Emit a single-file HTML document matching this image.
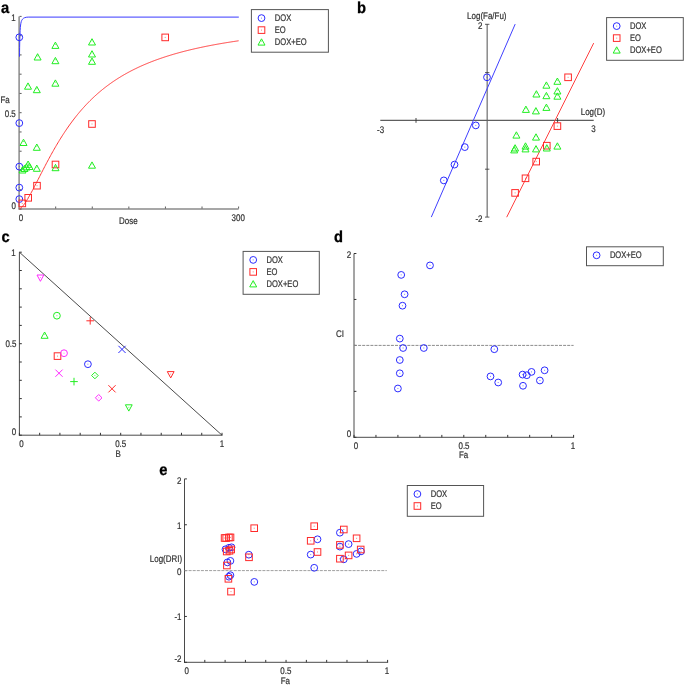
<!DOCTYPE html>
<html><head><meta charset="utf-8"><style>
html,body{margin:0;padding:0;background:#fff;}
svg{display:block;}
#w{width:685px;height:685px;will-change:transform;}
text{font-family:"Liberation Sans",sans-serif;text-rendering:geometricPrecision;}
</style></head><body><div id="w">
<svg width="685" height="685" viewBox="0 0 685 685">
<rect width="685" height="685" fill="#fff"/>
<text transform="translate(1,12.5) scale(0.92,1)" font-size="16" fill="#000" stroke="#000" stroke-width="0.3" text-anchor="start" font-weight="bold">a</text>
<line x1="19.1" y1="16.4" x2="19.1" y2="209.5" stroke="#8a8a8a" stroke-width="1.5" />
<line x1="18.6" y1="209.0" x2="238.6" y2="209.0" stroke="#8a8a8a" stroke-width="1.5" />
<line x1="19.6" y1="209.0" x2="21.6" y2="209.0" stroke="#333" stroke-width="0.8" />
<line x1="19.6" y1="189.74" x2="21.6" y2="189.74" stroke="#333" stroke-width="0.8" />
<line x1="19.6" y1="170.48000000000002" x2="21.6" y2="170.48000000000002" stroke="#333" stroke-width="0.8" />
<line x1="19.6" y1="151.22" x2="21.6" y2="151.22" stroke="#333" stroke-width="0.8" />
<line x1="19.6" y1="131.96" x2="21.6" y2="131.96" stroke="#333" stroke-width="0.8" />
<line x1="19.6" y1="112.7" x2="21.6" y2="112.7" stroke="#333" stroke-width="0.8" />
<line x1="19.6" y1="93.44000000000001" x2="21.6" y2="93.44000000000001" stroke="#333" stroke-width="0.8" />
<line x1="19.6" y1="74.18" x2="21.6" y2="74.18" stroke="#333" stroke-width="0.8" />
<line x1="19.6" y1="54.920000000000016" x2="21.6" y2="54.920000000000016" stroke="#333" stroke-width="0.8" />
<line x1="19.6" y1="35.660000000000025" x2="21.6" y2="35.660000000000025" stroke="#333" stroke-width="0.8" />
<line x1="19.6" y1="16.400000000000006" x2="21.6" y2="16.400000000000006" stroke="#333" stroke-width="0.8" />
<line x1="55.68333333333334" y1="208.5" x2="55.68333333333334" y2="206.5" stroke="#333" stroke-width="0.8" />
<line x1="92.26666666666668" y1="208.5" x2="92.26666666666668" y2="206.5" stroke="#333" stroke-width="0.8" />
<line x1="128.85" y1="208.5" x2="128.85" y2="206.5" stroke="#333" stroke-width="0.8" />
<line x1="165.43333333333334" y1="208.5" x2="165.43333333333334" y2="206.5" stroke="#333" stroke-width="0.8" />
<line x1="202.01666666666665" y1="208.5" x2="202.01666666666665" y2="206.5" stroke="#333" stroke-width="0.8" />
<line x1="238.6" y1="208.5" x2="238.6" y2="206.5" stroke="#333" stroke-width="0.8" />
<text transform="translate(15.8,20.6) scale(0.83,1)" font-size="9.6" fill="#333333" stroke="#333333" stroke-width="0.22" text-anchor="end" font-weight="normal">1</text>
<text transform="translate(15.8,116.6) scale(0.83,1)" font-size="9.6" fill="#333333" stroke="#333333" stroke-width="0.22" text-anchor="end" font-weight="normal">0.5</text>
<text transform="translate(15.9,208.9) scale(0.83,1)" font-size="9.6" fill="#333333" stroke="#333333" stroke-width="0.22" text-anchor="end" font-weight="normal">0</text>
<text transform="translate(0.5,102.6) scale(0.83,1)" font-size="9.6" fill="#333333" stroke="#333333" stroke-width="0.22" text-anchor="start" font-weight="normal">Fa</text>
<text transform="translate(21,220.6) scale(0.83,1)" font-size="9.6" fill="#333333" stroke="#333333" stroke-width="0.22" text-anchor="middle" font-weight="normal">0</text>
<text transform="translate(128.3,223.6) scale(0.83,1)" font-size="9.6" fill="#333333" stroke="#333333" stroke-width="0.22" text-anchor="middle" font-weight="normal">Dose</text>
<text transform="translate(238.2,221) scale(0.83,1)" font-size="9.6" fill="#333333" stroke="#333333" stroke-width="0.22" text-anchor="middle" font-weight="normal">300</text>
<path d="M19.5,56.7 C19.6,45 19.9,30 20.6,25 C21.2,20 22.5,17.2 28.2,17.1 L238.8,17.1" fill="none" stroke="#3a3aff" stroke-width="1"/>
<polyline points="19.10,209.00 19.83,208.73 20.56,208.24 21.30,207.61 22.03,206.87 22.76,206.04 23.49,205.14 24.22,204.17 24.95,203.14 25.69,202.06 26.42,200.93 27.15,199.76 27.88,198.56 28.61,197.31 29.34,196.04 30.08,194.75 30.81,193.43 31.54,192.08 32.27,190.73 33.00,189.35 33.73,187.96 34.47,186.56 35.20,185.15 35.93,183.74 36.66,182.31 37.39,180.89 38.12,179.46 38.86,178.02 39.59,176.59 40.32,175.16 41.05,173.73 41.78,172.30 42.51,170.88 43.25,169.46 43.98,168.04 44.71,166.64 45.44,165.24 46.17,163.84 46.90,162.45 47.64,161.08 48.37,159.71 49.10,158.35 49.83,157.00 50.56,155.66 51.29,154.33 52.02,153.01 52.76,151.70 53.49,150.41 54.22,149.12 54.95,147.85 55.68,146.59 56.41,145.34 57.15,144.10 57.88,142.87 58.61,141.66 59.34,140.46 60.07,139.27 60.80,138.10 61.54,136.93 62.27,135.78 63.00,134.64 63.73,133.52 64.46,132.41 65.19,131.30 65.93,130.22 66.66,129.14 67.39,128.08 68.12,127.02 68.85,125.98 69.59,124.96 70.32,123.94 71.05,122.94 71.78,121.95 72.51,120.97 73.24,120.00 73.97,119.04 74.71,118.09 75.44,117.16 76.17,116.24 76.90,115.33 77.63,114.43 78.37,113.54 79.10,112.66 79.83,111.79 80.56,110.93 81.29,110.08 82.02,109.25 82.75,108.42 83.49,107.60 84.22,106.79 84.95,106.00 85.68,105.21 86.41,104.43 87.15,103.66 87.88,102.91 88.61,102.16 89.34,101.41 90.07,100.68 90.80,99.96 91.53,99.25 92.27,98.54 93.00,97.84 93.73,97.16 94.46,96.48 95.19,95.80 95.93,95.14 96.66,94.49 97.39,93.84 98.12,93.20 98.85,92.56 99.58,91.94 100.31,91.32 101.05,90.71 101.78,90.11 102.51,89.51 103.24,88.93 103.97,88.34 104.71,87.77 105.44,87.20 106.17,86.64 106.90,86.09 107.63,85.54 108.36,85.00 109.09,84.46 109.83,83.93 110.56,83.41 111.29,82.89 112.02,82.38 112.75,81.87 113.49,81.37 114.22,80.88 114.95,80.39 115.68,79.91 116.41,79.43 117.14,78.96 117.88,78.49 118.61,78.03 119.34,77.58 120.07,77.13 120.80,76.68 121.53,76.24 122.27,75.80 123.00,75.37 123.73,74.95 124.46,74.52 125.19,74.11 125.92,73.70 126.66,73.29 127.39,72.88 128.12,72.48 128.85,72.09 129.58,71.70 130.31,71.31 131.04,70.93 131.78,70.55 132.51,70.18 133.24,69.81 133.97,69.44 134.70,69.08 135.44,68.72 136.17,68.37 136.90,68.02 137.63,67.67 138.36,67.32 139.09,66.98 139.82,66.65 140.56,66.31 141.29,65.98 142.02,65.66 142.75,65.33 143.48,65.01 144.22,64.70 144.95,64.39 145.68,64.08 146.41,63.77 147.14,63.46 147.87,63.16 148.60,62.87 149.34,62.57 150.07,62.28 150.80,61.99 151.53,61.70 152.26,61.42 153.00,61.14 153.73,60.86 154.46,60.59 155.19,60.31 155.92,60.04 156.65,59.78 157.38,59.51 158.12,59.25 158.85,58.99 159.58,58.73 160.31,58.48 161.04,58.23 161.78,57.98 162.51,57.73 163.24,57.48 163.97,57.24 164.70,57.00 165.43,56.76 166.16,56.52 166.90,56.29 167.63,56.06 168.36,55.83 169.09,55.60 169.82,55.38 170.56,55.15 171.29,54.93 172.02,54.71 172.75,54.49 173.48,54.28 174.21,54.06 174.94,53.85 175.68,53.64 176.41,53.43 177.14,53.23 177.87,53.02 178.60,52.82 179.34,52.62 180.07,52.42 180.80,52.22 181.53,52.03 182.26,51.84 182.99,51.64 183.72,51.45 184.46,51.26 185.19,51.08 185.92,50.89 186.65,50.71 187.38,50.52 188.11,50.34 188.85,50.16 189.58,49.99 190.31,49.81 191.04,49.64 191.77,49.46 192.50,49.29 193.24,49.12 193.97,48.95 194.70,48.78 195.43,48.62 196.16,48.45 196.89,48.29 197.63,48.13 198.36,47.96 199.09,47.81 199.82,47.65 200.55,47.49 201.28,47.33 202.02,47.18 202.75,47.03 203.48,46.87 204.21,46.72 204.94,46.57 205.67,46.42 206.41,46.28 207.14,46.13 207.87,45.99 208.60,45.84 209.33,45.70 210.06,45.56 210.80,45.42 211.53,45.28 212.26,45.14 212.99,45.00 213.72,44.87 214.45,44.73 215.19,44.60 215.92,44.46 216.65,44.33 217.38,44.20 218.11,44.07 218.84,43.94 219.58,43.81 220.31,43.69 221.04,43.56 221.77,43.43 222.50,43.31 223.23,43.19 223.97,43.06 224.70,42.94 225.43,42.82 226.16,42.70 226.89,42.58 227.62,42.46 228.36,42.35 229.09,42.23 229.82,42.12 230.55,42.00 231.28,41.89 232.01,41.77 232.75,41.66 233.48,41.55 234.21,41.44 234.94,41.33 235.67,41.22 236.41,41.11 237.14,41.01 237.87,40.90 238.60,40.79" fill="none" stroke="#ff3a3a" stroke-width="1"/>
<circle cx="19.30" cy="37.30" r="3.4" fill="none" stroke="#2a2aff" stroke-width="1"/>
<rect x="18.80" y="36.80" width="1" height="1" fill="#2a2aff" opacity="0.6"/>
<circle cx="19.30" cy="123.10" r="3.4" fill="none" stroke="#2a2aff" stroke-width="1"/>
<rect x="18.80" y="122.60" width="1" height="1" fill="#2a2aff" opacity="0.6"/>
<circle cx="19.30" cy="166.60" r="3.4" fill="none" stroke="#2a2aff" stroke-width="1"/>
<rect x="18.80" y="166.10" width="1" height="1" fill="#2a2aff" opacity="0.6"/>
<circle cx="19.30" cy="187.60" r="3.4" fill="none" stroke="#2a2aff" stroke-width="1"/>
<rect x="18.80" y="187.10" width="1" height="1" fill="#2a2aff" opacity="0.6"/>
<circle cx="19.30" cy="199.10" r="3.4" fill="none" stroke="#2a2aff" stroke-width="1"/>
<rect x="18.80" y="198.60" width="1" height="1" fill="#2a2aff" opacity="0.6"/>
<rect x="19.00" y="200.10" width="6.6" height="6.6" fill="none" stroke="#ff2a2a" stroke-width="1"/>
<rect x="21.80" y="202.90" width="1" height="1" fill="#ff2a2a" opacity="0.6"/>
<rect x="24.90" y="194.50" width="6.6" height="6.6" fill="none" stroke="#ff2a2a" stroke-width="1"/>
<rect x="27.70" y="197.30" width="1" height="1" fill="#ff2a2a" opacity="0.6"/>
<rect x="33.70" y="182.40" width="6.6" height="6.6" fill="none" stroke="#ff2a2a" stroke-width="1"/>
<rect x="36.50" y="185.20" width="1" height="1" fill="#ff2a2a" opacity="0.6"/>
<rect x="52.20" y="161.20" width="6.6" height="6.6" fill="none" stroke="#ff2a2a" stroke-width="1"/>
<rect x="55.00" y="164.00" width="1" height="1" fill="#ff2a2a" opacity="0.6"/>
<rect x="88.70" y="120.70" width="6.6" height="6.6" fill="none" stroke="#ff2a2a" stroke-width="1"/>
<rect x="91.50" y="123.50" width="1" height="1" fill="#ff2a2a" opacity="0.6"/>
<rect x="161.90" y="34.10" width="6.6" height="6.6" fill="none" stroke="#ff2a2a" stroke-width="1"/>
<rect x="164.70" y="36.90" width="1" height="1" fill="#ff2a2a" opacity="0.6"/>
<polygon points="28.00,82.90 31.50,89.20 24.50,89.20" fill="none" stroke="#22ee22" stroke-width="1"/>
<rect x="27.50" y="84.70" width="1" height="1" fill="#22ee22" opacity="0.6"/>
<polygon points="36.80,86.40 40.30,92.70 33.30,92.70" fill="none" stroke="#22ee22" stroke-width="1"/>
<rect x="36.30" y="88.20" width="1" height="1" fill="#22ee22" opacity="0.6"/>
<polygon points="37.60,53.70 41.10,60.00 34.10,60.00" fill="none" stroke="#22ee22" stroke-width="1"/>
<rect x="37.10" y="55.50" width="1" height="1" fill="#22ee22" opacity="0.6"/>
<polygon points="55.40,42.10 58.90,48.40 51.90,48.40" fill="none" stroke="#22ee22" stroke-width="1"/>
<rect x="54.90" y="43.90" width="1" height="1" fill="#22ee22" opacity="0.6"/>
<polygon points="55.40,57.40 58.90,63.70 51.90,63.70" fill="none" stroke="#22ee22" stroke-width="1"/>
<rect x="54.90" y="59.20" width="1" height="1" fill="#22ee22" opacity="0.6"/>
<polygon points="55.40,79.90 58.90,86.20 51.90,86.20" fill="none" stroke="#22ee22" stroke-width="1"/>
<rect x="54.90" y="81.70" width="1" height="1" fill="#22ee22" opacity="0.6"/>
<polygon points="92.00,38.70 95.50,45.00 88.50,45.00" fill="none" stroke="#22ee22" stroke-width="1"/>
<rect x="91.50" y="40.50" width="1" height="1" fill="#22ee22" opacity="0.6"/>
<polygon points="92.00,50.70 95.50,57.00 88.50,57.00" fill="none" stroke="#22ee22" stroke-width="1"/>
<rect x="91.50" y="52.50" width="1" height="1" fill="#22ee22" opacity="0.6"/>
<polygon points="92.00,58.00 95.50,64.30 88.50,64.30" fill="none" stroke="#22ee22" stroke-width="1"/>
<rect x="91.50" y="59.80" width="1" height="1" fill="#22ee22" opacity="0.6"/>
<polygon points="23.50,139.20 27.00,145.50 20.00,145.50" fill="none" stroke="#22ee22" stroke-width="1"/>
<rect x="23.00" y="141.00" width="1" height="1" fill="#22ee22" opacity="0.6"/>
<polygon points="36.80,144.00 40.30,150.30 33.30,150.30" fill="none" stroke="#22ee22" stroke-width="1"/>
<rect x="36.30" y="145.80" width="1" height="1" fill="#22ee22" opacity="0.6"/>
<polygon points="22.50,166.70 26.00,173.00 19.00,173.00" fill="none" stroke="#22ee22" stroke-width="1"/>
<rect x="22.00" y="168.50" width="1" height="1" fill="#22ee22" opacity="0.6"/>
<polygon points="24.50,165.20 28.00,171.50 21.00,171.50" fill="none" stroke="#22ee22" stroke-width="1"/>
<rect x="24.00" y="167.00" width="1" height="1" fill="#22ee22" opacity="0.6"/>
<polygon points="26.50,163.70 30.00,170.00 23.00,170.00" fill="none" stroke="#22ee22" stroke-width="1"/>
<rect x="26.00" y="165.50" width="1" height="1" fill="#22ee22" opacity="0.6"/>
<polygon points="28.10,161.00 31.60,167.30 24.60,167.30" fill="none" stroke="#22ee22" stroke-width="1"/>
<rect x="27.60" y="162.80" width="1" height="1" fill="#22ee22" opacity="0.6"/>
<polygon points="29.50,163.20 33.00,169.50 26.00,169.50" fill="none" stroke="#22ee22" stroke-width="1"/>
<rect x="29.00" y="165.00" width="1" height="1" fill="#22ee22" opacity="0.6"/>
<polygon points="36.80,165.00 40.30,171.30 33.30,171.30" fill="none" stroke="#22ee22" stroke-width="1"/>
<rect x="36.30" y="166.80" width="1" height="1" fill="#22ee22" opacity="0.6"/>
<polygon points="55.50,164.40 59.00,170.70 52.00,170.70" fill="none" stroke="#22ee22" stroke-width="1"/>
<rect x="55.00" y="166.20" width="1" height="1" fill="#22ee22" opacity="0.6"/>
<polygon points="92.00,161.90 95.50,168.20 88.50,168.20" fill="none" stroke="#22ee22" stroke-width="1"/>
<rect x="91.50" y="163.70" width="1" height="1" fill="#22ee22" opacity="0.6"/>
<rect x="251.4" y="9.6" width="77" height="42.6" fill="#fff" stroke="#555" stroke-width="1"/>
<circle cx="261.50" cy="18.10" r="3.4" fill="none" stroke="#2a2aff" stroke-width="1"/>
<rect x="261.00" y="17.60" width="1" height="1" fill="#2a2aff" opacity="0.6"/>
<text transform="translate(274.8,21.1) scale(0.79,1)" font-size="9.6" fill="#333333" stroke="#333333" stroke-width="0.22" text-anchor="start" font-weight="normal">DOX</text>
<rect x="258.20" y="26.80" width="6.6" height="6.6" fill="none" stroke="#ff2a2a" stroke-width="1"/>
<rect x="261.00" y="29.60" width="1" height="1" fill="#ff2a2a" opacity="0.6"/>
<text transform="translate(274.8,33.1) scale(0.79,1)" font-size="9.6" fill="#333333" stroke="#333333" stroke-width="0.22" text-anchor="start" font-weight="normal">EO</text>
<polygon points="261.50,38.80 265.00,45.10 258.00,45.10" fill="none" stroke="#22ee22" stroke-width="1"/>
<rect x="261.00" y="40.60" width="1" height="1" fill="#22ee22" opacity="0.6"/>
<text transform="translate(274.8,45.1) scale(0.79,1)" font-size="9.6" fill="#333333" stroke="#333333" stroke-width="0.22" text-anchor="start" font-weight="normal">DOX+EO</text>
<text transform="translate(357,12.8) scale(0.92,1)" font-size="16" fill="#000" stroke="#000" stroke-width="0.3" text-anchor="start" font-weight="bold">b</text>
<line x1="487.2" y1="24.3" x2="487.2" y2="217.1" stroke="#8a8a8a" stroke-width="1.5" />
<line x1="380.3" y1="120.4" x2="593.7" y2="120.4" stroke="#5e5e5e" stroke-width="1.2" />
<line x1="485.0" y1="24.3" x2="489.4" y2="24.3" stroke="#333" stroke-width="0.8" />
<line x1="485.0" y1="72.6" x2="489.4" y2="72.6" stroke="#333" stroke-width="0.8" />
<line x1="485.0" y1="169.2" x2="489.4" y2="169.2" stroke="#333" stroke-width="0.8" />
<line x1="485.0" y1="217.1" x2="489.4" y2="217.1" stroke="#333" stroke-width="0.8" />
<line x1="416" y1="118.0" x2="416" y2="122.80000000000001" stroke="#333" stroke-width="0.9" />
<line x1="557.6" y1="118.0" x2="557.6" y2="122.80000000000001" stroke="#333" stroke-width="0.9" />
<text transform="translate(486.8,18.8) scale(0.83,1)" font-size="9.6" fill="#333333" stroke="#333333" stroke-width="0.22" text-anchor="middle" font-weight="normal">Log(Fa/Fu)</text>
<text transform="translate(482.5,28.7) scale(0.83,1)" font-size="9.6" fill="#333333" stroke="#333333" stroke-width="0.22" text-anchor="end" font-weight="normal">2</text>
<text transform="translate(482.5,222.0) scale(0.83,1)" font-size="9.6" fill="#333333" stroke="#333333" stroke-width="0.22" text-anchor="end" font-weight="normal">-2</text>
<text transform="translate(380.6,132.6) scale(0.83,1)" font-size="9.6" fill="#333333" stroke="#333333" stroke-width="0.22" text-anchor="middle" font-weight="normal">-3</text>
<text transform="translate(593.5,132.4) scale(0.83,1)" font-size="9.6" fill="#333333" stroke="#333333" stroke-width="0.22" text-anchor="middle" font-weight="normal">3</text>
<text transform="translate(580.7,115.2) scale(0.83,1)" font-size="9.6" fill="#333333" stroke="#333333" stroke-width="0.22" text-anchor="start" font-weight="normal">Log(D)</text>
<line x1="431.3" y1="217.1" x2="515.2" y2="24.1" stroke="#4040ff" stroke-width="1" />
<line x1="506.7" y1="217.2" x2="593.7" y2="43.1" stroke="#ff4040" stroke-width="1" />
<circle cx="487.00" cy="77.30" r="3.4" fill="none" stroke="#2a2aff" stroke-width="1"/>
<rect x="486.50" y="76.80" width="1" height="1" fill="#2a2aff" opacity="0.6"/>
<circle cx="475.80" cy="125.40" r="3.4" fill="none" stroke="#2a2aff" stroke-width="1"/>
<rect x="475.30" y="124.90" width="1" height="1" fill="#2a2aff" opacity="0.6"/>
<circle cx="464.80" cy="147.10" r="3.4" fill="none" stroke="#2a2aff" stroke-width="1"/>
<rect x="464.30" y="146.60" width="1" height="1" fill="#2a2aff" opacity="0.6"/>
<circle cx="454.50" cy="164.60" r="3.4" fill="none" stroke="#2a2aff" stroke-width="1"/>
<rect x="454.00" y="164.10" width="1" height="1" fill="#2a2aff" opacity="0.6"/>
<circle cx="443.80" cy="180.40" r="3.4" fill="none" stroke="#2a2aff" stroke-width="1"/>
<rect x="443.30" y="179.90" width="1" height="1" fill="#2a2aff" opacity="0.6"/>
<rect x="564.80" y="74.00" width="6.6" height="6.6" fill="none" stroke="#ff2a2a" stroke-width="1"/>
<rect x="567.60" y="76.80" width="1" height="1" fill="#ff2a2a" opacity="0.6"/>
<rect x="554.10" y="122.80" width="6.6" height="6.6" fill="none" stroke="#ff2a2a" stroke-width="1"/>
<rect x="556.90" y="125.60" width="1" height="1" fill="#ff2a2a" opacity="0.6"/>
<rect x="543.50" y="142.40" width="6.6" height="6.6" fill="none" stroke="#ff2a2a" stroke-width="1"/>
<rect x="546.30" y="145.20" width="1" height="1" fill="#ff2a2a" opacity="0.6"/>
<rect x="532.90" y="158.30" width="6.6" height="6.6" fill="none" stroke="#ff2a2a" stroke-width="1"/>
<rect x="535.70" y="161.10" width="1" height="1" fill="#ff2a2a" opacity="0.6"/>
<rect x="522.20" y="175.00" width="6.6" height="6.6" fill="none" stroke="#ff2a2a" stroke-width="1"/>
<rect x="525.00" y="177.80" width="1" height="1" fill="#ff2a2a" opacity="0.6"/>
<rect x="511.80" y="189.60" width="6.6" height="6.6" fill="none" stroke="#ff2a2a" stroke-width="1"/>
<rect x="514.60" y="192.40" width="1" height="1" fill="#ff2a2a" opacity="0.6"/>
<polygon points="557.40,78.00 560.90,84.30 553.90,84.30" fill="none" stroke="#22ee22" stroke-width="1"/>
<rect x="556.90" y="79.80" width="1" height="1" fill="#22ee22" opacity="0.6"/>
<polygon points="546.40,81.90 549.90,88.20 542.90,88.20" fill="none" stroke="#22ee22" stroke-width="1"/>
<rect x="545.90" y="83.70" width="1" height="1" fill="#22ee22" opacity="0.6"/>
<polygon points="557.40,87.70 560.90,94.00 553.90,94.00" fill="none" stroke="#22ee22" stroke-width="1"/>
<rect x="556.90" y="89.50" width="1" height="1" fill="#22ee22" opacity="0.6"/>
<polygon points="536.40,90.70 539.90,97.00 532.90,97.00" fill="none" stroke="#22ee22" stroke-width="1"/>
<rect x="535.90" y="92.50" width="1" height="1" fill="#22ee22" opacity="0.6"/>
<polygon points="546.40,92.40 549.90,98.70 542.90,98.70" fill="none" stroke="#22ee22" stroke-width="1"/>
<rect x="545.90" y="94.20" width="1" height="1" fill="#22ee22" opacity="0.6"/>
<polygon points="557.40,92.90 560.90,99.20 553.90,99.20" fill="none" stroke="#22ee22" stroke-width="1"/>
<rect x="556.90" y="94.70" width="1" height="1" fill="#22ee22" opacity="0.6"/>
<polygon points="525.90,106.10 529.40,112.40 522.40,112.40" fill="none" stroke="#22ee22" stroke-width="1"/>
<rect x="525.40" y="107.90" width="1" height="1" fill="#22ee22" opacity="0.6"/>
<polygon points="535.90,107.60 539.40,113.90 532.40,113.90" fill="none" stroke="#22ee22" stroke-width="1"/>
<rect x="535.40" y="109.40" width="1" height="1" fill="#22ee22" opacity="0.6"/>
<polygon points="546.40,104.10 549.90,110.40 542.90,110.40" fill="none" stroke="#22ee22" stroke-width="1"/>
<rect x="545.90" y="105.90" width="1" height="1" fill="#22ee22" opacity="0.6"/>
<polygon points="516.40,131.80 519.90,138.10 512.90,138.10" fill="none" stroke="#22ee22" stroke-width="1"/>
<rect x="515.90" y="133.60" width="1" height="1" fill="#22ee22" opacity="0.6"/>
<polygon points="536.00,133.80 539.50,140.10 532.50,140.10" fill="none" stroke="#22ee22" stroke-width="1"/>
<rect x="535.50" y="135.60" width="1" height="1" fill="#22ee22" opacity="0.6"/>
<polygon points="515.10,144.70 518.60,151.00 511.60,151.00" fill="none" stroke="#22ee22" stroke-width="1"/>
<rect x="514.60" y="146.50" width="1" height="1" fill="#22ee22" opacity="0.6"/>
<polygon points="514.20,146.60 517.70,152.90 510.70,152.90" fill="none" stroke="#22ee22" stroke-width="1"/>
<rect x="513.70" y="148.40" width="1" height="1" fill="#22ee22" opacity="0.6"/>
<polygon points="525.50,142.80 529.00,149.10 522.00,149.10" fill="none" stroke="#22ee22" stroke-width="1"/>
<rect x="525.00" y="144.60" width="1" height="1" fill="#22ee22" opacity="0.6"/>
<polygon points="525.50,145.60 529.00,151.90 522.00,151.90" fill="none" stroke="#22ee22" stroke-width="1"/>
<rect x="525.00" y="147.40" width="1" height="1" fill="#22ee22" opacity="0.6"/>
<polygon points="536.00,145.60 539.50,151.90 532.50,151.90" fill="none" stroke="#22ee22" stroke-width="1"/>
<rect x="535.50" y="147.40" width="1" height="1" fill="#22ee22" opacity="0.6"/>
<polygon points="546.80,144.70 550.30,151.00 543.30,151.00" fill="none" stroke="#22ee22" stroke-width="1"/>
<rect x="546.30" y="146.50" width="1" height="1" fill="#22ee22" opacity="0.6"/>
<polygon points="557.40,142.80 560.90,149.10 553.90,149.10" fill="none" stroke="#22ee22" stroke-width="1"/>
<rect x="556.90" y="144.60" width="1" height="1" fill="#22ee22" opacity="0.6"/>
<rect x="606.6" y="17.6" width="76.7" height="42.7" fill="#fff" stroke="#555" stroke-width="1"/>
<circle cx="616.70" cy="26.10" r="3.4" fill="none" stroke="#2a2aff" stroke-width="1"/>
<rect x="616.20" y="25.60" width="1" height="1" fill="#2a2aff" opacity="0.6"/>
<text transform="translate(630.0,29.1) scale(0.79,1)" font-size="9.6" fill="#333333" stroke="#333333" stroke-width="0.22" text-anchor="start" font-weight="normal">DOX</text>
<rect x="613.40" y="34.80" width="6.6" height="6.6" fill="none" stroke="#ff2a2a" stroke-width="1"/>
<rect x="616.20" y="37.60" width="1" height="1" fill="#ff2a2a" opacity="0.6"/>
<text transform="translate(630.0,41.1) scale(0.79,1)" font-size="9.6" fill="#333333" stroke="#333333" stroke-width="0.22" text-anchor="start" font-weight="normal">EO</text>
<polygon points="616.70,46.80 620.20,53.10 613.20,53.10" fill="none" stroke="#22ee22" stroke-width="1"/>
<rect x="616.20" y="48.60" width="1" height="1" fill="#22ee22" opacity="0.6"/>
<text transform="translate(630.0,53.1) scale(0.79,1)" font-size="9.6" fill="#333333" stroke="#333333" stroke-width="0.22" text-anchor="start" font-weight="normal">DOX+EO</text>
<text transform="translate(1.5,241.5) scale(0.92,1)" font-size="16" fill="#000" stroke="#000" stroke-width="0.3" text-anchor="start" font-weight="bold">c</text>
<line x1="19.4" y1="252.2" x2="19.4" y2="435.7" stroke="#4a4a4a" stroke-width="1" />
<line x1="18.9" y1="435.2" x2="222.5" y2="435.2" stroke="#4a4a4a" stroke-width="1" />
<line x1="19.4" y1="252.2" x2="222.0" y2="435.2" stroke="#4a4a4a" stroke-width="1" />
<line x1="19.4" y1="435.2" x2="21.799999999999997" y2="435.2" stroke="#333" stroke-width="1" />
<line x1="19.4" y1="435.2" x2="19.4" y2="432.8" stroke="#333" stroke-width="1" />
<line x1="19.4" y1="416.9" x2="21.799999999999997" y2="416.9" stroke="#333" stroke-width="1" />
<line x1="39.66" y1="435.2" x2="39.66" y2="432.8" stroke="#333" stroke-width="1" />
<line x1="19.4" y1="398.59999999999997" x2="21.799999999999997" y2="398.59999999999997" stroke="#333" stroke-width="1" />
<line x1="59.919999999999995" y1="435.2" x2="59.919999999999995" y2="432.8" stroke="#333" stroke-width="1" />
<line x1="19.4" y1="380.3" x2="21.799999999999997" y2="380.3" stroke="#333" stroke-width="1" />
<line x1="80.17999999999999" y1="435.2" x2="80.17999999999999" y2="432.8" stroke="#333" stroke-width="1" />
<line x1="19.4" y1="362.0" x2="21.799999999999997" y2="362.0" stroke="#333" stroke-width="1" />
<line x1="100.44" y1="435.2" x2="100.44" y2="432.8" stroke="#333" stroke-width="1" />
<line x1="19.4" y1="343.7" x2="21.799999999999997" y2="343.7" stroke="#333" stroke-width="1" />
<line x1="120.69999999999999" y1="435.2" x2="120.69999999999999" y2="432.8" stroke="#333" stroke-width="1" />
<line x1="19.4" y1="325.4" x2="21.799999999999997" y2="325.4" stroke="#333" stroke-width="1" />
<line x1="140.95999999999998" y1="435.2" x2="140.95999999999998" y2="432.8" stroke="#333" stroke-width="1" />
<line x1="19.4" y1="307.1" x2="21.799999999999997" y2="307.1" stroke="#333" stroke-width="1" />
<line x1="161.22" y1="435.2" x2="161.22" y2="432.8" stroke="#333" stroke-width="1" />
<line x1="19.4" y1="288.79999999999995" x2="21.799999999999997" y2="288.79999999999995" stroke="#333" stroke-width="1" />
<line x1="181.48" y1="435.2" x2="181.48" y2="432.8" stroke="#333" stroke-width="1" />
<line x1="19.4" y1="270.5" x2="21.799999999999997" y2="270.5" stroke="#333" stroke-width="1" />
<line x1="201.73999999999998" y1="435.2" x2="201.73999999999998" y2="432.8" stroke="#333" stroke-width="1" />
<line x1="19.4" y1="252.2" x2="21.799999999999997" y2="252.2" stroke="#333" stroke-width="1" />
<line x1="222.0" y1="435.2" x2="222.0" y2="432.8" stroke="#333" stroke-width="1" />
<text transform="translate(15.8,255.6) scale(0.83,1)" font-size="9.6" fill="#333333" stroke="#333333" stroke-width="0.22" text-anchor="end" font-weight="normal">1</text>
<text transform="translate(16.5,347.2) scale(0.83,1)" font-size="9.6" fill="#333333" stroke="#333333" stroke-width="0.22" text-anchor="end" font-weight="normal">0.5</text>
<text transform="translate(16.2,434.7) scale(0.83,1)" font-size="9.6" fill="#333333" stroke="#333333" stroke-width="0.22" text-anchor="end" font-weight="normal">0</text>
<text transform="translate(21.5,446.6) scale(0.83,1)" font-size="9.6" fill="#333333" stroke="#333333" stroke-width="0.22" text-anchor="middle" font-weight="normal">0</text>
<text transform="translate(120.7,446.6) scale(0.83,1)" font-size="9.6" fill="#333333" stroke="#333333" stroke-width="0.22" text-anchor="middle" font-weight="normal">0.5</text>
<text transform="translate(222,446.6) scale(0.83,1)" font-size="9.6" fill="#333333" stroke="#333333" stroke-width="0.22" text-anchor="middle" font-weight="normal">1</text>
<text transform="translate(118.2,456.6) scale(0.83,1)" font-size="9.6" fill="#333333" stroke="#333333" stroke-width="0.22" text-anchor="middle" font-weight="normal">B</text>
<polygon points="40.40,281.30 43.80,275.00 37.00,275.00" fill="none" stroke="#ff2aff" stroke-width="1"/>
<rect x="39.90" y="277.00" width="1" height="1" fill="#ff2aff" opacity="0.6"/>
<circle cx="56.90" cy="315.70" r="3.4" fill="none" stroke="#22ee22" stroke-width="1"/>
<rect x="56.40" y="315.20" width="1" height="1" fill="#22ee22" opacity="0.6"/>
<path d="M86.40,320.80L94.00,320.80M90.20,317.00L90.20,324.60" stroke="#ff2a2a" stroke-width="1" fill="none"/>
<polygon points="44.60,332.00 48.10,338.30 41.10,338.30" fill="none" stroke="#22ee22" stroke-width="1"/>
<rect x="44.10" y="333.80" width="1" height="1" fill="#22ee22" opacity="0.6"/>
<path d="M118.40,345.80L125.60,353.00M125.60,345.80L118.40,353.00" stroke="#2a2aff" stroke-width="1" fill="none"/>
<rect x="54.20" y="352.80" width="6.6" height="6.6" fill="none" stroke="#ff2a2a" stroke-width="1"/>
<rect x="57.00" y="355.60" width="1" height="1" fill="#ff2a2a" opacity="0.6"/>
<circle cx="64.00" cy="353.20" r="3.4" fill="none" stroke="#ff2aff" stroke-width="1"/>
<rect x="63.50" y="352.70" width="1" height="1" fill="#ff2aff" opacity="0.6"/>
<circle cx="87.90" cy="364.20" r="3.4" fill="none" stroke="#2a2aff" stroke-width="1"/>
<rect x="87.40" y="363.70" width="1" height="1" fill="#2a2aff" opacity="0.6"/>
<path d="M55.40,369.60L62.60,376.80M62.60,369.60L55.40,376.80" stroke="#ff2aff" stroke-width="1" fill="none"/>
<path d="M70.20,381.60L77.80,381.60M74.00,377.80L74.00,385.40" stroke="#22ee22" stroke-width="1" fill="none"/>
<polygon points="94.90,372.20 98.20,375.50 94.90,378.80 91.60,375.50" fill="none" stroke="#22ee22" stroke-width="1"/>
<rect x="94.40" y="375.00" width="1" height="1" fill="#22ee22" opacity="0.6"/>
<path d="M108.40,385.20L115.60,392.40M115.60,385.20L108.40,392.40" stroke="#ff2a2a" stroke-width="1" fill="none"/>
<polygon points="98.70,394.50 102.00,397.80 98.70,401.10 95.40,397.80" fill="none" stroke="#ff2aff" stroke-width="1"/>
<rect x="98.20" y="397.30" width="1" height="1" fill="#ff2aff" opacity="0.6"/>
<polygon points="128.80,411.10 132.20,404.80 125.40,404.80" fill="none" stroke="#22ee22" stroke-width="1"/>
<rect x="128.30" y="406.80" width="1" height="1" fill="#22ee22" opacity="0.6"/>
<polygon points="170.70,377.90 174.10,371.60 167.30,371.60" fill="none" stroke="#ff2a2a" stroke-width="1"/>
<rect x="170.20" y="373.60" width="1" height="1" fill="#ff2a2a" opacity="0.6"/>
<rect x="243.1" y="251.4" width="76.2" height="42.9" fill="#fff" stroke="#555" stroke-width="1"/>
<circle cx="253.20" cy="259.90" r="3.4" fill="none" stroke="#2a2aff" stroke-width="1"/>
<rect x="252.70" y="259.40" width="1" height="1" fill="#2a2aff" opacity="0.6"/>
<text transform="translate(266.5,262.9) scale(0.79,1)" font-size="9.6" fill="#333333" stroke="#333333" stroke-width="0.22" text-anchor="start" font-weight="normal">DOX</text>
<rect x="249.90" y="268.60" width="6.6" height="6.6" fill="none" stroke="#ff2a2a" stroke-width="1"/>
<rect x="252.70" y="271.40" width="1" height="1" fill="#ff2a2a" opacity="0.6"/>
<text transform="translate(266.5,274.9) scale(0.79,1)" font-size="9.6" fill="#333333" stroke="#333333" stroke-width="0.22" text-anchor="start" font-weight="normal">EO</text>
<polygon points="253.20,280.60 256.70,286.90 249.70,286.90" fill="none" stroke="#22ee22" stroke-width="1"/>
<rect x="252.70" y="282.40" width="1" height="1" fill="#22ee22" opacity="0.6"/>
<text transform="translate(266.5,286.9) scale(0.79,1)" font-size="9.6" fill="#333333" stroke="#333333" stroke-width="0.22" text-anchor="start" font-weight="normal">DOX+EO</text>
<text transform="translate(334.0,241.5) scale(0.92,1)" font-size="16" fill="#000" stroke="#000" stroke-width="0.3" text-anchor="start" font-weight="bold">d</text>
<line x1="354.0" y1="253.5" x2="354.0" y2="437.8" stroke="#4a4a4a" stroke-width="1" />
<line x1="353.5" y1="437.3" x2="574.1" y2="437.3" stroke="#4a4a4a" stroke-width="1" />
<line x1="354.0" y1="437.3" x2="356.4" y2="437.3" stroke="#333" stroke-width="1" />
<line x1="354.0" y1="391.35" x2="356.4" y2="391.35" stroke="#333" stroke-width="1" />
<line x1="354.0" y1="345.4" x2="356.4" y2="345.4" stroke="#333" stroke-width="1" />
<line x1="354.0" y1="299.45" x2="356.4" y2="299.45" stroke="#333" stroke-width="1" />
<line x1="354.0" y1="253.5" x2="356.4" y2="253.5" stroke="#333" stroke-width="1" />
<line x1="354.0" y1="437.3" x2="354.0" y2="434.90000000000003" stroke="#333" stroke-width="1" />
<line x1="375.96" y1="437.3" x2="375.96" y2="434.90000000000003" stroke="#333" stroke-width="1" />
<line x1="397.92" y1="437.3" x2="397.92" y2="434.90000000000003" stroke="#333" stroke-width="1" />
<line x1="419.88" y1="437.3" x2="419.88" y2="434.90000000000003" stroke="#333" stroke-width="1" />
<line x1="441.84000000000003" y1="437.3" x2="441.84000000000003" y2="434.90000000000003" stroke="#333" stroke-width="1" />
<line x1="463.8" y1="437.3" x2="463.8" y2="434.90000000000003" stroke="#333" stroke-width="1" />
<line x1="485.76" y1="437.3" x2="485.76" y2="434.90000000000003" stroke="#333" stroke-width="1" />
<line x1="507.72" y1="437.3" x2="507.72" y2="434.90000000000003" stroke="#333" stroke-width="1" />
<line x1="529.6800000000001" y1="437.3" x2="529.6800000000001" y2="434.90000000000003" stroke="#333" stroke-width="1" />
<line x1="551.64" y1="437.3" x2="551.64" y2="434.90000000000003" stroke="#333" stroke-width="1" />
<line x1="573.6" y1="437.3" x2="573.6" y2="434.90000000000003" stroke="#333" stroke-width="1" />
<line x1="354.0" y1="345.4" x2="573.6" y2="345.4" stroke="#8c8c8c" stroke-width="1" stroke-dasharray="3,1.1"/>
<text transform="translate(351.2,258.2) scale(0.83,1)" font-size="9.6" fill="#333333" stroke="#333333" stroke-width="0.22" text-anchor="end" font-weight="normal">2</text>
<text transform="translate(351.2,436.6) scale(0.83,1)" font-size="9.6" fill="#333333" stroke="#333333" stroke-width="0.22" text-anchor="end" font-weight="normal">0</text>
<text transform="translate(336,337) scale(0.83,1)" font-size="9.6" fill="#333333" stroke="#333333" stroke-width="0.22" text-anchor="start" font-weight="normal">CI</text>
<text transform="translate(356,448.5) scale(0.83,1)" font-size="9.6" fill="#333333" stroke="#333333" stroke-width="0.22" text-anchor="middle" font-weight="normal">0</text>
<text transform="translate(464,449) scale(0.83,1)" font-size="9.6" fill="#333333" stroke="#333333" stroke-width="0.22" text-anchor="middle" font-weight="normal">0.5</text>
<text transform="translate(573,449) scale(0.83,1)" font-size="9.6" fill="#333333" stroke="#333333" stroke-width="0.22" text-anchor="middle" font-weight="normal">1</text>
<text transform="translate(463.6,458) scale(0.83,1)" font-size="9.6" fill="#333333" stroke="#333333" stroke-width="0.22" text-anchor="middle" font-weight="normal">Fa</text>
<circle cx="430.00" cy="265.40" r="3.4" fill="none" stroke="#2a2aff" stroke-width="1"/>
<rect x="429.50" y="264.90" width="1" height="1" fill="#2a2aff" opacity="0.6"/>
<circle cx="401.20" cy="274.90" r="3.4" fill="none" stroke="#2a2aff" stroke-width="1"/>
<rect x="400.70" y="274.40" width="1" height="1" fill="#2a2aff" opacity="0.6"/>
<circle cx="404.60" cy="294.30" r="3.4" fill="none" stroke="#2a2aff" stroke-width="1"/>
<rect x="404.10" y="293.80" width="1" height="1" fill="#2a2aff" opacity="0.6"/>
<circle cx="402.50" cy="305.70" r="3.4" fill="none" stroke="#2a2aff" stroke-width="1"/>
<rect x="402.00" y="305.20" width="1" height="1" fill="#2a2aff" opacity="0.6"/>
<circle cx="399.80" cy="338.60" r="3.4" fill="none" stroke="#2a2aff" stroke-width="1"/>
<rect x="399.30" y="338.10" width="1" height="1" fill="#2a2aff" opacity="0.6"/>
<circle cx="403.10" cy="348.00" r="3.4" fill="none" stroke="#2a2aff" stroke-width="1"/>
<rect x="402.60" y="347.50" width="1" height="1" fill="#2a2aff" opacity="0.6"/>
<circle cx="423.80" cy="348.00" r="3.4" fill="none" stroke="#2a2aff" stroke-width="1"/>
<rect x="423.30" y="347.50" width="1" height="1" fill="#2a2aff" opacity="0.6"/>
<circle cx="399.80" cy="360.00" r="3.4" fill="none" stroke="#2a2aff" stroke-width="1"/>
<rect x="399.30" y="359.50" width="1" height="1" fill="#2a2aff" opacity="0.6"/>
<circle cx="399.80" cy="373.30" r="3.4" fill="none" stroke="#2a2aff" stroke-width="1"/>
<rect x="399.30" y="372.80" width="1" height="1" fill="#2a2aff" opacity="0.6"/>
<circle cx="397.90" cy="388.50" r="3.4" fill="none" stroke="#2a2aff" stroke-width="1"/>
<rect x="397.40" y="388.00" width="1" height="1" fill="#2a2aff" opacity="0.6"/>
<circle cx="494.30" cy="349.20" r="3.4" fill="none" stroke="#2a2aff" stroke-width="1"/>
<rect x="493.80" y="348.70" width="1" height="1" fill="#2a2aff" opacity="0.6"/>
<circle cx="490.50" cy="376.40" r="3.4" fill="none" stroke="#2a2aff" stroke-width="1"/>
<rect x="490.00" y="375.90" width="1" height="1" fill="#2a2aff" opacity="0.6"/>
<circle cx="498.20" cy="382.50" r="3.4" fill="none" stroke="#2a2aff" stroke-width="1"/>
<rect x="497.70" y="382.00" width="1" height="1" fill="#2a2aff" opacity="0.6"/>
<circle cx="522.60" cy="374.60" r="3.4" fill="none" stroke="#2a2aff" stroke-width="1"/>
<rect x="522.10" y="374.10" width="1" height="1" fill="#2a2aff" opacity="0.6"/>
<circle cx="526.80" cy="375.20" r="3.4" fill="none" stroke="#2a2aff" stroke-width="1"/>
<rect x="526.30" y="374.70" width="1" height="1" fill="#2a2aff" opacity="0.6"/>
<circle cx="531.50" cy="371.90" r="3.4" fill="none" stroke="#2a2aff" stroke-width="1"/>
<rect x="531.00" y="371.40" width="1" height="1" fill="#2a2aff" opacity="0.6"/>
<circle cx="544.60" cy="370.30" r="3.4" fill="none" stroke="#2a2aff" stroke-width="1"/>
<rect x="544.10" y="369.80" width="1" height="1" fill="#2a2aff" opacity="0.6"/>
<circle cx="539.90" cy="380.50" r="3.4" fill="none" stroke="#2a2aff" stroke-width="1"/>
<rect x="539.40" y="380.00" width="1" height="1" fill="#2a2aff" opacity="0.6"/>
<circle cx="523.00" cy="385.80" r="3.4" fill="none" stroke="#2a2aff" stroke-width="1"/>
<rect x="522.50" y="385.30" width="1" height="1" fill="#2a2aff" opacity="0.6"/>
<rect x="586.5" y="246.8" width="76.8" height="18.9" fill="#fff" stroke="#555" stroke-width="1"/>
<circle cx="596.60" cy="255.30" r="3.4" fill="none" stroke="#2a2aff" stroke-width="1"/>
<rect x="596.10" y="254.80" width="1" height="1" fill="#2a2aff" opacity="0.6"/>
<text transform="translate(609.9,258.3) scale(0.79,1)" font-size="9.6" fill="#333333" stroke="#333333" stroke-width="0.22" text-anchor="start" font-weight="normal">DOX+EO</text>
<text transform="translate(159.3,474.8) scale(0.92,1)" font-size="16" fill="#000" stroke="#000" stroke-width="0.3" text-anchor="start" font-weight="bold">e</text>
<line x1="184.5" y1="478.9" x2="184.5" y2="662.8" stroke="#4a4a4a" stroke-width="1" />
<line x1="184.0" y1="662.3" x2="388.1" y2="662.3" stroke="#4a4a4a" stroke-width="1" />
<line x1="184.5" y1="662.3" x2="186.9" y2="662.3" stroke="#333" stroke-width="1" />
<line x1="184.5" y1="616.4499999999999" x2="186.9" y2="616.4499999999999" stroke="#333" stroke-width="1" />
<line x1="184.5" y1="570.5999999999999" x2="186.9" y2="570.5999999999999" stroke="#333" stroke-width="1" />
<line x1="184.5" y1="524.75" x2="186.9" y2="524.75" stroke="#333" stroke-width="1" />
<line x1="184.5" y1="478.9" x2="186.9" y2="478.9" stroke="#333" stroke-width="1" />
<line x1="184.5" y1="662.3" x2="184.5" y2="659.9" stroke="#333" stroke-width="1" />
<line x1="204.81" y1="662.3" x2="204.81" y2="659.9" stroke="#333" stroke-width="1" />
<line x1="225.12" y1="662.3" x2="225.12" y2="659.9" stroke="#333" stroke-width="1" />
<line x1="245.43" y1="662.3" x2="245.43" y2="659.9" stroke="#333" stroke-width="1" />
<line x1="265.74" y1="662.3" x2="265.74" y2="659.9" stroke="#333" stroke-width="1" />
<line x1="286.05" y1="662.3" x2="286.05" y2="659.9" stroke="#333" stroke-width="1" />
<line x1="306.36" y1="662.3" x2="306.36" y2="659.9" stroke="#333" stroke-width="1" />
<line x1="326.67" y1="662.3" x2="326.67" y2="659.9" stroke="#333" stroke-width="1" />
<line x1="346.98" y1="662.3" x2="346.98" y2="659.9" stroke="#333" stroke-width="1" />
<line x1="367.29" y1="662.3" x2="367.29" y2="659.9" stroke="#333" stroke-width="1" />
<line x1="387.6" y1="662.3" x2="387.6" y2="659.9" stroke="#333" stroke-width="1" />
<line x1="184.5" y1="570.6" x2="386.8" y2="570.6" stroke="#a0a0a0" stroke-width="1" stroke-dasharray="3,1.1"/>
<text transform="translate(181.5,483.6) scale(0.83,1)" font-size="9.6" fill="#333333" stroke="#333333" stroke-width="0.22" text-anchor="end" font-weight="normal">2</text>
<text transform="translate(181.5,529.3) scale(0.83,1)" font-size="9.6" fill="#333333" stroke="#333333" stroke-width="0.22" text-anchor="end" font-weight="normal">1</text>
<text transform="translate(181.5,575) scale(0.83,1)" font-size="9.6" fill="#333333" stroke="#333333" stroke-width="0.22" text-anchor="end" font-weight="normal">0</text>
<text transform="translate(181.5,619.8) scale(0.83,1)" font-size="9.6" fill="#333333" stroke="#333333" stroke-width="0.22" text-anchor="end" font-weight="normal">-1</text>
<text transform="translate(181.5,662.4) scale(0.83,1)" font-size="9.6" fill="#333333" stroke="#333333" stroke-width="0.22" text-anchor="end" font-weight="normal">-2</text>
<text transform="translate(149.8,562.0) scale(0.83,1)" font-size="9.6" fill="#333333" stroke="#333333" stroke-width="0.22" text-anchor="start" font-weight="normal">Log(DRI)</text>
<text transform="translate(186.6,674.0) scale(0.83,1)" font-size="9.6" fill="#333333" stroke="#333333" stroke-width="0.22" text-anchor="middle" font-weight="normal">0</text>
<text transform="translate(285.8,674.0) scale(0.83,1)" font-size="9.6" fill="#333333" stroke="#333333" stroke-width="0.22" text-anchor="middle" font-weight="normal">0.5</text>
<text transform="translate(387,674.0) scale(0.83,1)" font-size="9.6" fill="#333333" stroke="#333333" stroke-width="0.22" text-anchor="middle" font-weight="normal">1</text>
<text transform="translate(285.3,683.8) scale(0.83,1)" font-size="9.6" fill="#333333" stroke="#333333" stroke-width="0.22" text-anchor="middle" font-weight="normal">Fa</text>
<circle cx="225.50" cy="549.30" r="3.4" fill="none" stroke="#2a2aff" stroke-width="1"/>
<rect x="225.00" y="548.80" width="1" height="1" fill="#2a2aff" opacity="0.6"/>
<circle cx="229.00" cy="547.80" r="3.4" fill="none" stroke="#2a2aff" stroke-width="1"/>
<rect x="228.50" y="547.30" width="1" height="1" fill="#2a2aff" opacity="0.6"/>
<circle cx="231.50" cy="547.30" r="3.4" fill="none" stroke="#2a2aff" stroke-width="1"/>
<rect x="231.00" y="546.80" width="1" height="1" fill="#2a2aff" opacity="0.6"/>
<circle cx="248.80" cy="554.70" r="3.4" fill="none" stroke="#2a2aff" stroke-width="1"/>
<rect x="248.30" y="554.20" width="1" height="1" fill="#2a2aff" opacity="0.6"/>
<circle cx="227.40" cy="562.40" r="3.4" fill="none" stroke="#2a2aff" stroke-width="1"/>
<rect x="226.90" y="561.90" width="1" height="1" fill="#2a2aff" opacity="0.6"/>
<circle cx="230.40" cy="560.90" r="3.4" fill="none" stroke="#2a2aff" stroke-width="1"/>
<rect x="229.90" y="560.40" width="1" height="1" fill="#2a2aff" opacity="0.6"/>
<circle cx="230.40" cy="575.20" r="3.4" fill="none" stroke="#2a2aff" stroke-width="1"/>
<rect x="229.90" y="574.70" width="1" height="1" fill="#2a2aff" opacity="0.6"/>
<circle cx="228.90" cy="576.70" r="3.4" fill="none" stroke="#2a2aff" stroke-width="1"/>
<rect x="228.40" y="576.20" width="1" height="1" fill="#2a2aff" opacity="0.6"/>
<circle cx="254.30" cy="581.90" r="3.4" fill="none" stroke="#2a2aff" stroke-width="1"/>
<rect x="253.80" y="581.40" width="1" height="1" fill="#2a2aff" opacity="0.6"/>
<circle cx="317.50" cy="539.30" r="3.4" fill="none" stroke="#2a2aff" stroke-width="1"/>
<rect x="317.00" y="538.80" width="1" height="1" fill="#2a2aff" opacity="0.6"/>
<circle cx="310.70" cy="554.60" r="3.4" fill="none" stroke="#2a2aff" stroke-width="1"/>
<rect x="310.20" y="554.10" width="1" height="1" fill="#2a2aff" opacity="0.6"/>
<circle cx="314.20" cy="567.80" r="3.4" fill="none" stroke="#2a2aff" stroke-width="1"/>
<rect x="313.70" y="567.30" width="1" height="1" fill="#2a2aff" opacity="0.6"/>
<circle cx="339.90" cy="532.70" r="3.4" fill="none" stroke="#2a2aff" stroke-width="1"/>
<rect x="339.40" y="532.20" width="1" height="1" fill="#2a2aff" opacity="0.6"/>
<circle cx="339.90" cy="546.60" r="3.4" fill="none" stroke="#2a2aff" stroke-width="1"/>
<rect x="339.40" y="546.10" width="1" height="1" fill="#2a2aff" opacity="0.6"/>
<circle cx="348.60" cy="544.10" r="3.4" fill="none" stroke="#2a2aff" stroke-width="1"/>
<rect x="348.10" y="543.60" width="1" height="1" fill="#2a2aff" opacity="0.6"/>
<circle cx="343.80" cy="559.30" r="3.4" fill="none" stroke="#2a2aff" stroke-width="1"/>
<rect x="343.30" y="558.80" width="1" height="1" fill="#2a2aff" opacity="0.6"/>
<circle cx="356.60" cy="553.90" r="3.4" fill="none" stroke="#2a2aff" stroke-width="1"/>
<rect x="356.10" y="553.40" width="1" height="1" fill="#2a2aff" opacity="0.6"/>
<circle cx="361.00" cy="551.40" r="3.4" fill="none" stroke="#2a2aff" stroke-width="1"/>
<rect x="360.50" y="550.90" width="1" height="1" fill="#2a2aff" opacity="0.6"/>
<rect x="250.90" y="524.90" width="6.6" height="6.6" fill="none" stroke="#ff2a2a" stroke-width="1"/>
<rect x="253.70" y="527.70" width="1" height="1" fill="#ff2a2a" opacity="0.6"/>
<rect x="221.30" y="534.70" width="6.6" height="6.6" fill="none" stroke="#ff2a2a" stroke-width="1"/>
<rect x="224.10" y="537.50" width="1" height="1" fill="#ff2a2a" opacity="0.6"/>
<rect x="222.90" y="534.70" width="6.6" height="6.6" fill="none" stroke="#ff2a2a" stroke-width="1"/>
<rect x="225.70" y="537.50" width="1" height="1" fill="#ff2a2a" opacity="0.6"/>
<rect x="225.60" y="534.20" width="6.6" height="6.6" fill="none" stroke="#ff2a2a" stroke-width="1"/>
<rect x="228.40" y="537.00" width="1" height="1" fill="#ff2a2a" opacity="0.6"/>
<rect x="227.20" y="534.10" width="6.6" height="6.6" fill="none" stroke="#ff2a2a" stroke-width="1"/>
<rect x="230.00" y="536.90" width="1" height="1" fill="#ff2a2a" opacity="0.6"/>
<rect x="223.40" y="548.20" width="6.6" height="6.6" fill="none" stroke="#ff2a2a" stroke-width="1"/>
<rect x="226.20" y="551.00" width="1" height="1" fill="#ff2a2a" opacity="0.6"/>
<rect x="226.20" y="547.50" width="6.6" height="6.6" fill="none" stroke="#ff2a2a" stroke-width="1"/>
<rect x="229.00" y="550.30" width="1" height="1" fill="#ff2a2a" opacity="0.6"/>
<rect x="227.90" y="546.20" width="6.6" height="6.6" fill="none" stroke="#ff2a2a" stroke-width="1"/>
<rect x="230.70" y="549.00" width="1" height="1" fill="#ff2a2a" opacity="0.6"/>
<rect x="245.70" y="554.00" width="6.6" height="6.6" fill="none" stroke="#ff2a2a" stroke-width="1"/>
<rect x="248.50" y="556.80" width="1" height="1" fill="#ff2a2a" opacity="0.6"/>
<rect x="223.60" y="562.20" width="6.6" height="6.6" fill="none" stroke="#ff2a2a" stroke-width="1"/>
<rect x="226.40" y="565.00" width="1" height="1" fill="#ff2a2a" opacity="0.6"/>
<rect x="225.10" y="575.50" width="6.6" height="6.6" fill="none" stroke="#ff2a2a" stroke-width="1"/>
<rect x="227.90" y="578.30" width="1" height="1" fill="#ff2a2a" opacity="0.6"/>
<rect x="227.70" y="588.30" width="6.6" height="6.6" fill="none" stroke="#ff2a2a" stroke-width="1"/>
<rect x="230.50" y="591.10" width="1" height="1" fill="#ff2a2a" opacity="0.6"/>
<rect x="310.90" y="522.90" width="6.6" height="6.6" fill="none" stroke="#ff2a2a" stroke-width="1"/>
<rect x="313.70" y="525.70" width="1" height="1" fill="#ff2a2a" opacity="0.6"/>
<rect x="307.40" y="537.50" width="6.6" height="6.6" fill="none" stroke="#ff2a2a" stroke-width="1"/>
<rect x="310.20" y="540.30" width="1" height="1" fill="#ff2a2a" opacity="0.6"/>
<rect x="314.20" y="548.70" width="6.6" height="6.6" fill="none" stroke="#ff2a2a" stroke-width="1"/>
<rect x="317.00" y="551.50" width="1" height="1" fill="#ff2a2a" opacity="0.6"/>
<rect x="340.50" y="526.20" width="6.6" height="6.6" fill="none" stroke="#ff2a2a" stroke-width="1"/>
<rect x="343.30" y="529.00" width="1" height="1" fill="#ff2a2a" opacity="0.6"/>
<rect x="353.30" y="535.00" width="6.6" height="6.6" fill="none" stroke="#ff2a2a" stroke-width="1"/>
<rect x="356.10" y="537.80" width="1" height="1" fill="#ff2a2a" opacity="0.6"/>
<rect x="336.60" y="541.60" width="6.6" height="6.6" fill="none" stroke="#ff2a2a" stroke-width="1"/>
<rect x="339.40" y="544.40" width="1" height="1" fill="#ff2a2a" opacity="0.6"/>
<rect x="336.60" y="555.40" width="6.6" height="6.6" fill="none" stroke="#ff2a2a" stroke-width="1"/>
<rect x="339.40" y="558.20" width="1" height="1" fill="#ff2a2a" opacity="0.6"/>
<rect x="345.30" y="552.10" width="6.6" height="6.6" fill="none" stroke="#ff2a2a" stroke-width="1"/>
<rect x="348.10" y="554.90" width="1" height="1" fill="#ff2a2a" opacity="0.6"/>
<rect x="357.40" y="546.20" width="6.6" height="6.6" fill="none" stroke="#ff2a2a" stroke-width="1"/>
<rect x="360.20" y="549.00" width="1" height="1" fill="#ff2a2a" opacity="0.6"/>
<rect x="407.3" y="485.5" width="76.3" height="30.8" fill="#fff" stroke="#555" stroke-width="1"/>
<circle cx="417.40" cy="494.00" r="3.4" fill="none" stroke="#2a2aff" stroke-width="1"/>
<rect x="416.90" y="493.50" width="1" height="1" fill="#2a2aff" opacity="0.6"/>
<text transform="translate(430.7,497.0) scale(0.79,1)" font-size="9.6" fill="#333333" stroke="#333333" stroke-width="0.22" text-anchor="start" font-weight="normal">DOX</text>
<rect x="414.10" y="502.70" width="6.6" height="6.6" fill="none" stroke="#ff2a2a" stroke-width="1"/>
<rect x="416.90" y="505.50" width="1" height="1" fill="#ff2a2a" opacity="0.6"/>
<text transform="translate(430.7,509.0) scale(0.79,1)" font-size="9.6" fill="#333333" stroke="#333333" stroke-width="0.22" text-anchor="start" font-weight="normal">EO</text>
</svg></div>
</body></html>
